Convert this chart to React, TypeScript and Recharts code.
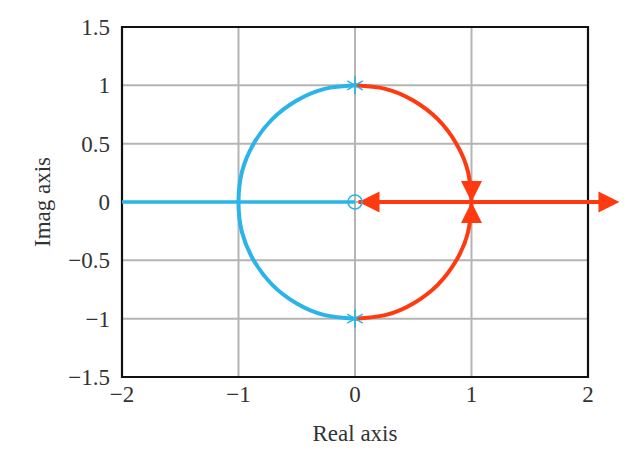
import React from "react"
import {
  ComposedChart,
  Line,
  Scatter,
  XAxis,
  YAxis,
  CartesianGrid,
  ReferenceArea,
  ReferenceLine,
  ReferenceDot,
  Label,
} from "recharts"

// root locus branches
const blueReal = [
  { x: -2, y: 0 },
  { x: 0, y: 0 },
]
const blueArc = [
  { x: 0, y: 1 },
  { x: -0.26, y: 0.97 },
  { x: -0.5, y: 0.87 },
  { x: -0.71, y: 0.71 },
  { x: -0.87, y: 0.5 },
  { x: -0.97, y: 0.26 },
  { x: -1, y: 0 },
  { x: -0.97, y: -0.26 },
  { x: -0.87, y: -0.5 },
  { x: -0.71, y: -0.71 },
  { x: -0.5, y: -0.87 },
  { x: -0.26, y: -0.97 },
  { x: 0, y: -1 },
]
const redUpper = [
  { x: 0, y: 1 },
  { x: 0.26, y: 0.97 },
  { x: 0.5, y: 0.87 },
  { x: 0.71, y: 0.71 },
  { x: 0.87, y: 0.5 },
  { x: 0.97, y: 0.26 },
  { x: 1, y: 0 },
]
const redLower = [
  { x: 0, y: -1 },
  { x: 0.26, y: -0.97 },
  { x: 0.5, y: -0.87 },
  { x: 0.71, y: -0.71 },
  { x: 0.87, y: -0.5 },
  { x: 0.97, y: -0.26 },
  { x: 1, y: 0 },
]
const poles = [
  { x: 0, y: 1 },
  { x: 0, y: -1 },
]
const zeros = [{ x: 0, y: 0 }]
const realLineStart = 0.03
const realLineEnd = 2.1
const arrows = [
  { x: 0.03, y: 0, dir: "left" },
  { x: 2.27, y: 0, dir: "right" },
  { x: 1, y: 0, dir: "down" },
  { x: 1, y: 0, dir: "up" },
]

const xTicks = [-2, -1, 0, 1, 2]
const yTicks = [-1.5, -1, -0.5, 0, 0.5, 1, 1.5]

const BLUE = "#2ab4e8"
const RED = "#ff3a10"
const FONT = "'Liberation Serif', 'DejaVu Serif', serif"

const fmt = (v: number) => String(v).replace("-", "\u2212")

const arrowShape = (dir: string) => (props: any) => {
  const { cx, cy } = props
  const L = 21
  const W = 10.5
  let pts = ""
  if (dir === "left") pts = `${cx},${cy} ${cx + L},${cy - W} ${cx + L},${cy + W}`
  if (dir === "right") pts = `${cx},${cy} ${cx - L},${cy - W} ${cx - L},${cy + W}`
  if (dir === "down") pts = `${cx},${cy} ${cx - W},${cy - L} ${cx + W},${cy - L}`
  if (dir === "up") pts = `${cx},${cy} ${cx - W},${cy + L} ${cx + W},${cy + L}`
  return <polygon points={pts} fill={RED} />
}

const Star = (props: any) => {
  const { cx, cy } = props
  const r = 9
  const a = r * Math.cos(Math.PI / 3)
  const b = r * Math.sin(Math.PI / 3)
  return (
    <g stroke={BLUE} strokeWidth={1.6}>
      <line x1={cx} y1={cy - r} x2={cx} y2={cy + r} />
      <line x1={cx - b} y1={cy - a} x2={cx + b} y2={cy + a} />
      <line x1={cx - b} y1={cy + a} x2={cx + b} y2={cy - a} />
    </g>
  )
}

const Ring = (props: any) => {
  const { cx, cy } = props
  return <circle cx={cx} cy={cy} r={7} fill="none" stroke={BLUE} strokeWidth={1.6} />
}

export default function App() {
  const tick = { fontSize: 23, fill: "#333", fontFamily: FONT }
  return (
    <div style={{ position: "absolute", left: 0, top: 0, background: "#fff" }}>
      <ComposedChart width={635} height={450} margin={{ top: 27, right: 47, bottom: 0, left: 0 }}>
        <CartesianGrid stroke="#b4b4b4" strokeWidth={2} horizontalValues={yTicks} verticalValues={xTicks} />
        <XAxis
          type="number"
          dataKey="x"
          domain={[-2, 2]}
          ticks={xTicks}
          allowDataOverflow
          height={73}
          axisLine={false}
          tickLine={false}
          tickSize={6}
          tickMargin={3}
          tickFormatter={fmt}
          tick={tick}
        >
          <Label value="Real axis" position="insideBottom" offset={9} style={{ fontSize: 23, fill: "#333", fontFamily: FONT }} />
        </XAxis>
        <YAxis
          type="number"
          dataKey="y"
          domain={[-1.5, 1.5]}
          ticks={yTicks}
          allowDataOverflow
          width={122}
          axisLine={false}
          tickLine={false}
          tickSize={6}
          tickMargin={6}
          tickFormatter={fmt}
          tick={tick}
        >
          <Label
            value="Imag axis"
            angle={-90}
            position="insideLeft"
            offset={42}
            style={{ fontSize: 23, fill: "#333", fontFamily: FONT, textAnchor: "middle" }}
          />
        </YAxis>
        <ReferenceArea x1={-2} x2={2} y1={-1.5} y2={1.5} fill="none" fillOpacity={0} stroke="#111" strokeWidth={2.2} />
        <Line data={blueReal} dataKey="y" type="linear" stroke={BLUE} strokeWidth={3.5} dot={false} isAnimationActive={false} />
        <Line data={blueArc} dataKey="y" type="natural" stroke={BLUE} strokeWidth={4} dot={false} isAnimationActive={false} />
        <Line data={redUpper} dataKey="y" type="natural" stroke={RED} strokeWidth={4} dot={false} isAnimationActive={false} />
        <Line data={redLower} dataKey="y" type="natural" stroke={RED} strokeWidth={4} dot={false} isAnimationActive={false} />
        <ReferenceLine
          segment={[
            { x: realLineStart, y: 0 },
            { x: realLineEnd, y: 0 },
          ]}
          stroke={RED}
          strokeWidth={4}
          ifOverflow="visible"
        />
        {arrows.map((a, i) => (
          <ReferenceDot key={i} x={a.x} y={a.y} ifOverflow="visible" shape={arrowShape(a.dir)} />
        ))}
        <Scatter data={poles} dataKey="y" shape={Star} isAnimationActive={false} />
        <Scatter data={zeros} dataKey="y" shape={Ring} isAnimationActive={false} />
      </ComposedChart>
    </div>
  )
}
